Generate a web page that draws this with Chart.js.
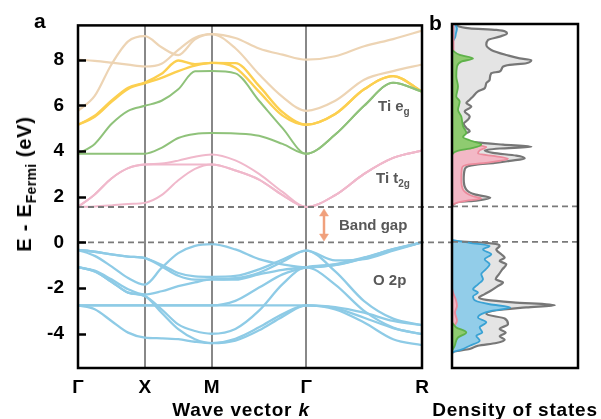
<!DOCTYPE html>
<html>
<head>
<meta charset="utf-8">
<script src="https://cdn.jsdelivr.net/npm/chart.js@4.4.1/dist/chart.umd.min.js"></script>
<style>
  body { margin: 0; background: #fff; }
  #wrap { position: relative; width: 601px; height: 419px; overflow: hidden; font-family: 'Liberation Sans', Arial, sans-serif; }
  canvas { position: absolute; top: 0; }
  .t { position: absolute; font-weight: bold; white-space: nowrap; line-height: 1; }
  .ax { font-size: 19px; letter-spacing: 0.8px; }
  .note { color: #585858; font-size: 15px; }
  .sub { position: relative; }
</style>
</head>
<body>
<div id="wrap">
  <canvas id="bands" width="455" height="419" style="left:0"></canvas>
  <canvas id="dos" width="161" height="419" style="left:440px"></canvas>

  <div class="t" style="left:34px;top:10px;font-size:21px">a</div>
  <div class="t" style="left:429px;top:12px;font-size:21px">b</div>

  <div class="t" style="left:24px;top:184px;font-size:20px;letter-spacing:0.8px;transform:translate(-50%,-50%) rotate(-90deg)">E - E<span class="sub" style="font-size:14px;top:5px;letter-spacing:0.3px">Fermi</span> (eV)</div>
  <div class="t ax" style="left:241px;top:400px;transform:translateX(-50%)">Wave vector <i>k</i></div>
  <div class="t ax" style="left:515px;top:400px;transform:translateX(-50%)">Density of states</div>

  <div class="t note" style="left:378px;top:98px">Ti e<span class="sub" style="font-size:10px;top:4px">g</span></div>
  <div class="t note" style="left:376px;top:170px">Ti t<span class="sub" style="font-size:10px;top:4px">2g</span></div>
  <div class="t note" style="left:339px;top:217px">Band gap</div>
  <div class="t note" style="left:373px;top:272px">O 2p</div>
  <svg style="position:absolute;left:316px;top:207px" width="16" height="36">
    <g stroke="#f0a07c" fill="#f0a07c">
      <line x1="8" y1="7" x2="8" y2="29" stroke-width="2.5"/>
      <polygon points="8,2 3.5,9 12.5,9" stroke-width="0.5"/>
      <polygon points="8,34 3.5,27 12.5,27" stroke-width="0.5"/>
    </g>
  </svg>
</div>

<script>
// k-path (Γ X M Γ R) sample points
const K = [0, 0.125, 0.25, 0.375, 0.5, 0.625, 0.75, 0.875, 1.0, 1.177, 1.354, 1.530, 1.707, 1.924, 2.140, 2.357, 2.573];
const kTicks = [0, 0.5, 1.0, 1.707, 2.573];
const kLabels = ['Γ', 'X', 'M', 'Γ', 'R'];
const eTicks = [-4, -2, 0, 2, 4, 6, 8];
const gapTop = 1.55;

// O 2p valence bands
const o1 = [-0.33,-0.41,-0.53,-0.62,-0.69, -0.98,-1.34,-1.49,-1.51, -1.47,-1.18,-0.75,-0.36, -0.79,-0.73,-0.36,0];
const o2 = [-0.33,-0.59,-1.05,-1.56,-1.85, -1.12,-0.47,-0.15,-0.08, -0.31,-0.73,-0.96,-1.09, -0.98,-0.68,-0.29,0];
const o3 = [-1.08,-1.24,-1.62,-2.05,-2.28, -2.14,-1.92,-1.75,-1.62, -1.63,-1.4,-1.2,-1.09, -1.0,-0.7,-0.32,0];
const o4 = [-1.08,-1.27,-1.72,-2.2,-2.35, -2.93,-3.59,-3.88,-4.0, -3.79,-2.99,-1.83,-1.09, -1.85,-3.0,-3.73,-4.02];
const o5 = [-2.76,-2.76,-2.76,-2.76,-2.76, -2.76,-2.76,-2.76,-2.76, -2.76,-2.76,-2.76,-2.76, -2.83,-3.08,-3.44,-3.62];
const o6 = [-2.76,-2.93,-3.44,-3.95,-4.17, -4.2,-4.24,-4.35,-4.41, -4.22,-3.72,-3.14,-2.76, -2.93,-3.51,-4.24,-4.5];
const o7 = [-0.33,-0.41,-0.53,-0.62,-0.69, -1.05,-1.46,-1.63,-1.62, -1.57,-1.33,-0.85,-0.36, -1.27,-2.57,-3.34,-3.62];
const o8 = [-1.08,-1.27,-1.72,-2.2,-2.35, -3.08,-3.8,-4.24,-4.41, -4.3,-3.85,-3.25,-2.76, -2.88,-3.3,-3.75,-4.02];
const o9 = [-2.76,-2.76,-2.76,-2.76,-2.76, -2.76,-2.76,-2.76,-2.76, -2.56,-1.98,-1.4,-1.09, -0.95,-0.66,-0.3,0];

// Ti t2g
const t2g1 = [1.55,1.57,1.62,1.68,1.73, 2.07,2.72,3.22,3.41, 3.15,2.75,2.07,1.55, 2.07,3.0,3.7,4.02];
const t2g2 = [1.55,2.1,2.8,3.25,3.41, 3.41,3.41,3.41,3.41, 3.15,2.75,2.07,1.55, 2.07,3.0,3.7,4.02];
const t2g3 = [1.55,2.1,2.8,3.25,3.41, 3.45,3.58,3.75,3.85, 3.59,3.0,2.21,1.55, 2.07,3.0,3.7,4.02];
// Ti eg
const eg1 = [3.88,3.88,3.88,3.88,3.88, 4.14,4.57,4.75,4.79, 4.77,4.67,4.31,3.88, 4.72,5.98,6.99,6.6];
const eg2 = [3.88,4.31,5.18,5.76,5.98, 6.2,6.7,7.49,7.5, 7.4,6.2,5.0,3.88, 4.72,5.98,6.99,6.6];
// higher bands
const y1 = [5.15,5.54,6.2,6.77,7.0, 7.38,7.96,7.8,7.86, 7.85,6.85,5.7,5.15, 5.62,6.7,7.28,6.6];
const y2 = [5.15,5.5,6.15,6.72,6.97, 7.2,7.5,7.74,7.86, 7.65,6.6,5.55,5.15, 5.62,6.7,7.28,6.6];
const h1 = [8.0,7.95,7.87,7.78,7.7, 7.82,8.43,8.96,9.12, 8.95,8.49,8.22,8.0, 8.15,8.59,8.9,9.27];
const h2 = [5.76,6.41,7.79,8.8,9.03, 8.54,8.2,8.89,9.12, 8.5,7.36,6.37,5.76, 6.2,7.12,7.5,7.79];

// DOS (arbitrary units), conduction side
const totCE = [9.5,9.46,9.31,9.24,9.09,8.95,8.8,8.59,8.37,8.15,8.0,7.93,7.79,7.72,7.64,7.43,7.36,7.07,6.92,6.7,6.56,6.34,6.2,6.05,5.9,5.69,5.47,5.33,5.15,4.97,4.82,4.67,4.46,4.34,4.24,4.15,4.07,3.99,3.88,3.76,3.64,3.53,3.44,3.37,3.3,3.15,2.72,2.28,2.07,1.92,1.8,1.75,1.67,1.56];
const totC  = [1,2.7,17.7,44.3,55,47.7,36,34.3,39.3,54.3,67.7,79.3,74.3,57.7,51,47.7,39.3,37.7,34.3,32.7,26,21,17.7,14.3,19.3,12.7,17.7,16,11.7,14.3,17.7,10.3,9.3,24.3,51,79.3,47.7,32.7,41,64.3,72.7,57.7,42.7,24.3,16,12.7,11.7,14.3,22.7,38.3,24.3,7.7,2.7,0];
const oCE = [9.5,9.3,9.1,8.9,8.75,8.6];
const oC  = [3,5,4,3,1,0];
const tCE = [9.5,8.5,6.5,4.8,4.6,4.46,4.34,4.24,4.14,3.99,3.85,3.73,3.62,3.47,3.37,3.22,2.72,2.28,1.99,1.89,1.77,1.67,1.56];
const tC  = [1.5,1.5,1.5,1,0.5,1.7,6,21,34.3,27.7,26,44.3,56,37.7,16,10,9.3,11,21,29.3,11,2.7,0];
const gCE = [8.35,8.15,8.0,7.86,7.64,7.21,6.77,6.34,6.12,5.76,5.47,5.04,4.75,4.57,4.43,4.24,4.1,3.95,3.8];
const gC  = [0.5,7.7,21,9.3,5,4.3,6,4.3,7.7,6,9.3,11,14.3,11,17.7,29.3,21,4.3,0];
// DOS, valence side
const totVE = [0.1,0.04,-0.04,-0.18,-0.33,-0.54,-0.69,-0.83,-0.98,-1.2,-1.41,-1.63,-1.77,-1.95,-2.14,-2.28,-2.43,-2.53,-2.64,-2.76,-2.86,-2.98,-3.15,-3.34,-3.59,-3.8,-3.95,-4.12,-4.27,-4.41,-4.53,-4.67,-4.78,-4.85];
const totV  = [0,1,34.3,47.7,44.3,49.3,52.7,47.7,54.3,50.3,47,43.7,51,45,38.3,32.7,27,34.3,61,102.7,74.3,44.3,34.3,52.7,56,47.7,53.7,47.7,52.7,44.3,26,17.7,2.7,0];
const oVE = [0.1,0.08,-0.04,-0.18,-0.33,-0.54,-0.76,-0.98,-1.2,-1.41,-1.63,-1.85,-2.07,-2.21,-2.38,-2.57,-2.72,-2.86,-3.01,-3.15,-3.3,-3.51,-3.73,-3.95,-4.09,-4.31,-4.53,-4.7,-4.81,-4.9];
const oV  = [0,1,17.7,37.7,31,39.3,32.7,37.7,33.7,29.3,31,26,21,26,21,23.7,37.7,58.3,39.3,29.3,26,34.3,27.7,30.3,24.3,27.7,17.7,9.3,1,0];
const tVE = [-2.0,-2.21,-2.5,-2.79,-3.08,-3.44,-3.66,-3.85];
const tV  = [0,1,3.7,5,3,5,2.3,0];
const gVE = [-3.51,-3.73,-3.95,-4.17,-4.53,-4.75];
const gV  = [0,4.3,14.3,6,2.7,0];

Chart.defaults.font.family = "'Liberation Sans', Arial, sans-serif";

// black box round the plot area
const frame = {
  id: 'frame',
  afterDraw(c) {
    const { ctx, chartArea: a } = c;
    ctx.save();
    ctx.strokeStyle = '#000';
    ctx.lineWidth = 2.5;
    ctx.strokeRect(a.left, a.top, a.right - a.left, a.bottom - a.top);
    ctx.restore();
  }
};

// short inward tick marks on the energy axis, drawn over the bands
const innerTicks = {
  id: 'innerTicks',
  afterDraw(c) {
    const { ctx, chartArea: a } = c;
    const y = c.scales.y;
    ctx.save();
    ctx.strokeStyle = '#000';
    ctx.lineWidth = 2.5;
    y.ticks.forEach(t => {
      const py = Math.round(y.getPixelForValue(t.value)) + 0.5;
      ctx.beginPath();
      ctx.moveTo(a.left, py);
      ctx.lineTo(a.left + 8, py);
      ctx.stroke();
    });
    ctx.restore();
  }
};

const band = (vals, color, w) => ({
  data: K.map((k, i) => ({ x: k, y: vals[i] })),
  borderColor: color, borderWidth: w, pointRadius: 0, fill: false,
  cubicInterpolationMode: 'monotone'
});
const dash = (e, x0, x1) => ({
  data: [{ x: x0, y: e }, { x: x1, y: e }],
  borderColor: '#7a7a7a', borderWidth: 1.8, borderDash: [6, 4],
  pointRadius: 0, tension: 0, fill: false, clip: false
});

const BLUE = '#8ecbe6', PINK = '#f0b8cb', GREEN = '#8fc27a', YELLOW = '#fccf4f', TAN = '#edd4b4';

new Chart(document.getElementById('bands'), {
  type: 'line',
  data: {
    datasets: [
      dash(0, 0, 2.8), dash(gapTop, 0, 2.8),
      band(t2g1, PINK, 2), band(t2g2, PINK, 2), band(t2g3, PINK, 2),
      band(eg1, GREEN, 2), band(eg2, GREEN, 2),
      band(y1, YELLOW, 2.4), band(y2, YELLOW, 2.4),
      band(h1, TAN, 2.2), band(h2, TAN, 2.2),
      band(o1, BLUE, 2.3), band(o2, BLUE, 2.3), band(o3, BLUE, 2.3),
      band(o4, BLUE, 2.3), band(o5, BLUE, 2.3), band(o6, BLUE, 2.3),
      band(o7, BLUE, 2.3), band(o8, BLUE, 2.3), band(o9, BLUE, 2.3)
    ]
  },
  options: {
    responsive: false, animation: false, devicePixelRatio: 1,
    layout: { padding: { top: 24, right: 33, left: 0, bottom: 0 } },
    plugins: { legend: { display: false }, tooltip: { enabled: false } },
    scales: {
      x: {
        type: 'linear', min: 0, max: 2.573,
        afterFit: s => { s.height = 51; },
        afterBuildTicks: s => { s.ticks = kTicks.map(v => ({ value: v })); },
        ticks: { callback: (v, i) => kLabels[i], font: { size: 19, weight: 'bold' }, color: '#000', padding: 8, maxRotation: 0, autoSkip: false },
        grid: { drawTicks: false, lineWidth: 2, color: c => (c.index === 0 || c.index === kTicks.length - 1) ? 'rgba(0,0,0,0)' : '#888' },
        border: { display: false }
      },
      y: {
        type: 'linear', min: -5.5, max: 9.5,
        afterFit: s => { s.width = 78; },
        afterBuildTicks: s => { s.ticks = eTicks.map(v => ({ value: v })); },
        ticks: { font: { size: 19, weight: 'bold' }, color: '#000', padding: 14 },
        grid: { display: false, drawTicks: false },
        border: { display: false }
      }
    }
  },
  plugins: [frame, innerTicks]
});

const dos = (E, V, line, fillc, w) => ({
  data: E.map((e, i) => ({ x: V[i], y: e })),
  borderColor: line, backgroundColor: fillc, borderWidth: w,
  pointRadius: 0, fill: 'origin', cubicInterpolationMode: 'monotone'
});

new Chart(document.getElementById('dos'), {
  type: 'line',
  data: {
    datasets: [
      dash(0, 0, 126), dash(gapTop, 0, 126),
      dos(gCE, gC, '#5fb24a', '#8fcb70', 1.8), dos(gVE, gV, '#5fb24a', '#8fcb70', 1.8),
      dos(tCE, tC, '#ec8b9c', '#f3b8c6', 1.8), dos(tVE, tV, '#ec8b9c', '#f3b8c6', 1.8),
      dos(oCE, oC, '#3aa2d4', '#92cde9', 1.8), dos(oVE, oV, '#3aa2d4', '#92cde9', 1.8),
      dos(totCE, totC, '#777', '#e4e4e4', 2.2), dos(totVE, totV, '#777', '#e4e4e4', 2.2)
    ]
  },
  options: {
    indexAxis: 'y',
    responsive: false, animation: false, devicePixelRatio: 1,
    layout: { padding: { top: 24, bottom: 51, left: 12, right: 23 } },
    plugins: { legend: { display: false }, tooltip: { enabled: false } },
    scales: {
      x: { type: 'linear', min: 0, max: 126, display: false },
      y: { type: 'linear', min: -5.5, max: 9.5, display: false }
    }
  },
  plugins: [frame]
});
</script>
</body>
</html>
